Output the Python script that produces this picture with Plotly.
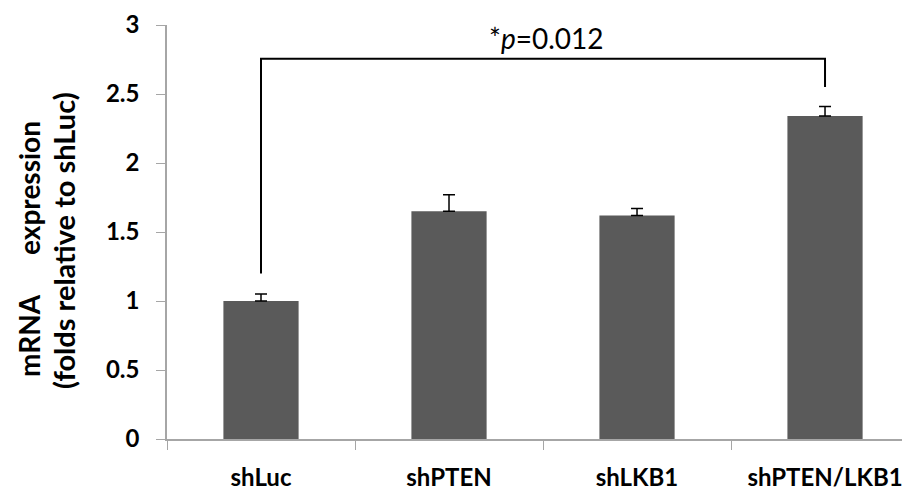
import plotly.graph_objects as go

categories = ["shLuc", "shPTEN", "shLKB1", "shPTEN/LKB1"]
values = [1.0, 1.65, 1.62, 2.34]
errors = [0.05, 0.12, 0.05, 0.07]
y_ticks = [0, 0.5, 1, 1.5, 2, 2.5, 3]
y_tick_labels = ["0", "0.5", "1", "1.5", "2", "2.5", "3"]
bracket_left_y = 1.2
bracket_right_y = 2.55
bracket_top_y = 2.755
p_label = "*<i>p</i>=0.012"
y_title_lines = ["mRNA\u00a0\u00a0\u00a0\u00a0\u00a0\u00a0expression", "(folds relative to shLuc)"]

FONT = "Lato"

fig = go.Figure()
fig.add_trace(go.Bar(
    x=categories, y=values,
    marker=dict(color="#5a5a5a", line=dict(width=0)),
    error_y=dict(type="data", array=errors, arrayminus=[0]*len(errors),
                 symmetric=False, color="#000000", thickness=1.5, width=6),
))

# significance bracket
fig.add_trace(go.Scatter(
    x=[categories[0], categories[0], categories[3], categories[3]],
    y=[bracket_left_y, bracket_top_y, bracket_top_y, bracket_right_y],
    mode="lines", line=dict(color="#000000", width=2),
    hoverinfo="skip", cliponaxis=False,
))

fig.add_annotation(
    x=1.5, y=bracket_top_y, xref="x", yref="y", text=p_label,
    showarrow=False, yanchor="bottom", yshift=2, xshift=3,
    font=dict(family=FONT, size=28, color="#000000"),
)

for i, line in enumerate(y_title_lines):
    fig.add_annotation(
        x=0, y=[0.459, 0.478][i], xref="paper", yref="paper", xshift=[-138, -104][i],
        text="<b>" + line + "</b>",
        textangle=-90, showarrow=False, xanchor="center", yanchor="middle",
        font=dict(family=FONT, size=[28, 29][i], color="#000000"),
    )

fig.update_layout(
    width=902, height=483,
    margin=dict(l=159, r=0, t=17, b=50),
    plot_bgcolor="#ffffff", paper_bgcolor="#ffffff",
    showlegend=False,
    bargap=0.6,
    font=dict(family=FONT, color="#000000"),
)
fig.update_xaxes(
    range=[-0.5, 3.452],
    showline=True, linecolor="#a6a6a6", linewidth=1.5,
    ticks="outside", tickson="boundaries", ticklen=9, tickcolor="#a6a6a6",
    tickfont=dict(family=FONT, size=24, color="#000000", weight="bold"),
    ticklabelstandoff=16,
    showgrid=False, zeroline=False,
)
fig.update_yaxes(
    range=[0, 3], tickvals=y_ticks, ticktext=y_tick_labels,
    showline=True, linecolor="#a6a6a6", linewidth=1.5,
    ticks="outside", ticklen=9, tickcolor="#a6a6a6",
    tickfont=dict(family=FONT, size=24, color="#000000", weight="bold"),
    ticklabelstandoff=12,
    showgrid=False, zeroline=False,
)

fig.write_html("out.html")
